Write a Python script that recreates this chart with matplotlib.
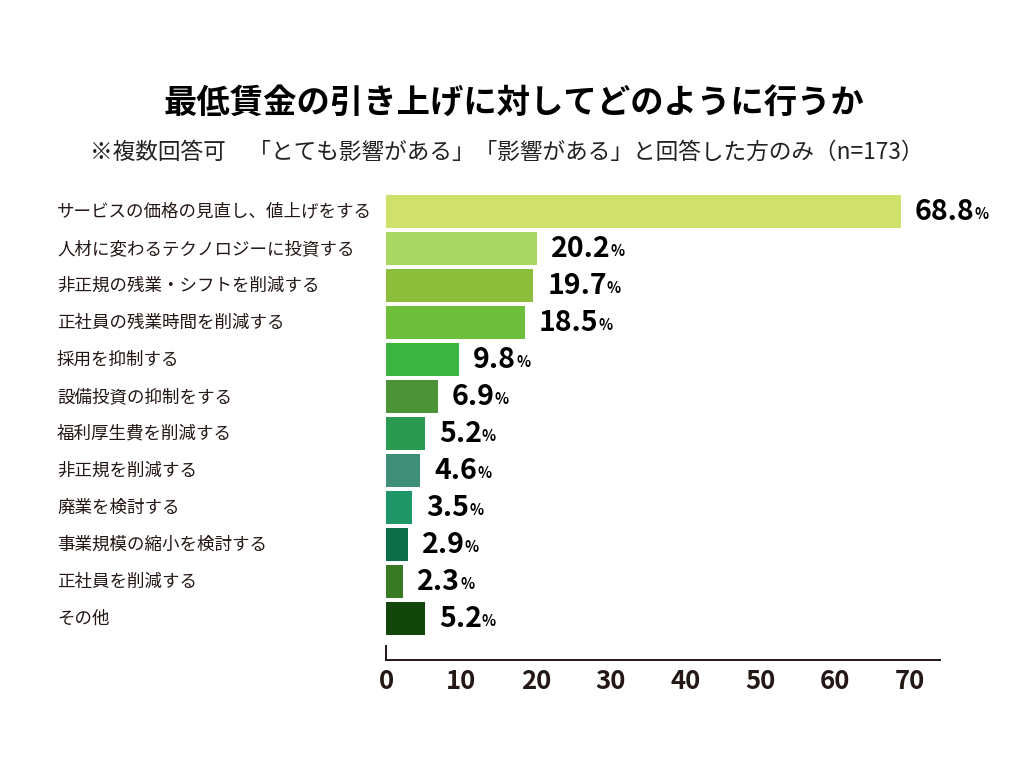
import matplotlib
matplotlib.use("Agg")
import matplotlib.pyplot as plt
from matplotlib.transforms import blended_transform_factory

plt.rcParams['font.family'] = ['Noto Sans CJK JP', 'DejaVu Sans']

title = "最低賃金の引き上げに対してどのように行うか"
subtitle = "※複数回答可　「とても影響がある」「影響がある」と回答した方のみ（n=173）"

categories = [
    "サービスの価格の見直し、値上げをする",
    "人材に変わるテクノロジーに投資する",
    "非正規の残業・シフトを削減する",
    "正社員の残業時間を削減する",
    "採用を抑制する",
    "設備投資の抑制をする",
    "福利厚生費を削減する",
    "非正規を削減する",
    "廃業を検討する",
    "事業規模の縮小を検討する",
    "正社員を削減する",
    "その他",
]
values = [68.8, 20.2, 19.7, 18.5, 9.8, 6.9, 5.2, 4.6, 3.5, 2.9, 2.3, 5.2]
colors = ["#cfe16b", "#a8d863", "#8cbe3c", "#6dbf3b", "#3cb440", "#4c9338",
          "#2a9a50", "#3f8e78", "#1f9668", "#0c6c47", "#377a23", "#13470a"]
xticks = [0, 10, 20, 30, 40, 50, 60, 70]

TXT = "#231815"

fig = plt.figure(figsize=(10.24, 7.68), dpi=100)
fig.patch.set_facecolor("white")
W, H = 1024, 768
ax_left, ax_right = 386 / W, 940 / W
ax_top, ax_bottom = 1 - 193 / H, 1 - 660 / H
ax = fig.add_axes([ax_left, ax_bottom, ax_right - ax_left, ax_top - ax_bottom])

ypos = list(range(len(values)))
ax.barh(ypos, values, height=0.89, color=colors, edgecolor="none")
ax.set_xlim(0, 74)
ax.set_ylim(12.11, -0.51)

for s in ["top", "right"]:
    ax.spines[s].set_visible(False)
ax.spines["bottom"].set_color(TXT)
ax.spines["bottom"].set_linewidth(1.4)
ax.spines["left"].set_color(TXT)
ax.spines["left"].set_linewidth(1.4)
ax.spines["left"].set_bounds(11.72, 12.11)
ax.set_yticks([])
ax.set_xticks(xticks)
ax.set_xticklabels([str(t) for t in xticks], fontsize=18.5, fontweight="bold", color=TXT)
ax.tick_params(axis="x", length=0, pad=6)

# category labels
trans = blended_transform_factory(fig.transFigure, ax.transData)
for y, c in zip(ypos, categories):
    fig.text(57 / W, y, c, transform=trans, ha="left", va="center",
             fontsize=12.6, color=TXT)

# value labels
fig.canvas.draw()
renderer = fig.canvas.get_renderer()
for y, v in zip(ypos, values):
    t = ax.annotate(f"{v:.1f}", xy=(v, y), xytext=(10, 0), textcoords="offset points",
                    ha="left", va="center", fontsize=20.5, fontweight="bold", color="black")
    bb = t.get_window_extent(renderer)
    xr, yb = fig.transFigure.inverted().transform((bb.x1, bb.y0))
    fig.text(xr, yb + 3.5 / H, "%", ha="left", va="bottom", fontsize=10.5,
             fontweight="bold", color="black")

fig.text(0.502, 1 - 103 / H, title, ha="center", va="center", fontsize=24,
         fontweight="bold", color="black")
fig.text(0.495, 1 - 152 / H, subtitle, ha="center", va="center", fontsize=16.3,
         color="#222222")

fig.savefig("out.png", dpi=100, facecolor="white")
